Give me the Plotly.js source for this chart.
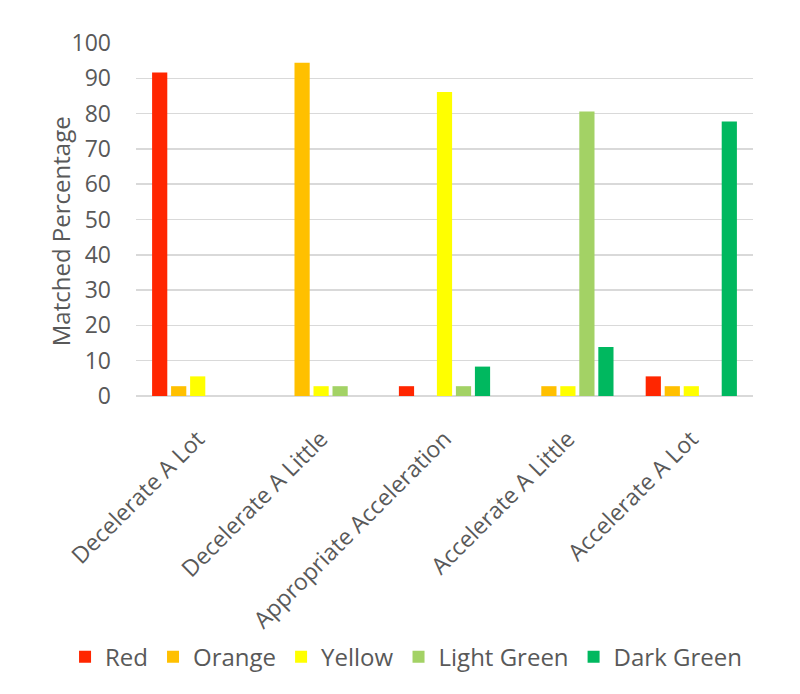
<!DOCTYPE html>
<html>
<head>
<meta charset="utf-8">
<script src="https://cdn.plot.ly/plotly-3.0.1.min.js"></script>
<style>
  html, body { margin: 0; padding: 0; background: #fff; }
  #chart { width: 800px; height: 694px; }
</style>
</head>
<body>
<div id="chart"></div>
<script>
var categories = [
  "Decelerate A Lot",
  "Decelerate A Little",
  "Appropriate Acceleration",
  "Accelerate A Little",
  "Accelerate A Lot"
];
var seriesNames = ["Red", "Orange", "Yellow", "Light Green", "Dark Green"];
var seriesColors = ["#ff2600", "#ffc000", "#ffff00", "#a3d265", "#00b85f"];

var red = [91.67, 0, 2.78, 0, 5.56];
var orange = [2.78, 94.44, 0, 2.78, 2.78];
var yellow = [5.56, 2.78, 86.11, 2.78, 2.78];
var lightGreen = [0, 2.78, 2.78, 80.56, 0];
var darkGreen = [0, 0, 8.33, 13.89, 77.78];

var yTicks = [0, 10, 20, 30, 40, 50, 60, 70, 80, 90, 100];
var yTitle = "Matched Percentage";

var values = [red, orange, yellow, lightGreen, darkGreen];
var txt = "#595959";
var fontFam = "'Open Sans', 'Liberation Sans', sans-serif";

var traces = values.map(function (v, i) {
  return {
    type: "bar",
    name: seriesNames[i],
    x: categories,
    y: v,
    marker: { color: seriesColors[i], line: { width: 0 } },
    hoverinfo: "x+y+name"
  };
});

var layout = {
  width: 800,
  height: 694,
  paper_bgcolor: "#ffffff",
  plot_bgcolor: "#ffffff",
  margin: { l: 136, r: 47, t: 43, b: 298 },
  barmode: "group",
  bargap: 0.23,
  bargroupgap: 0.2,
  font: { family: fontFam, size: 23, color: txt },
  showlegend: true,
  legend: {
    orientation: "h",
    x: -0.115,
    xanchor: "left",
    y: -0.74,
    yanchor: "middle",
    font: { family: fontFam, size: 24, color: txt },
    itemwidth: 30,
    traceorder: "normal"
  },
  xaxis: {
    type: "category",
    automargin: false,
    tickangle: -45,
    tickfont: { family: fontFam, size: 23, color: txt },
    ticklabelstandoff: 24,
    showgrid: false,
    showline: false,
    ticks: "",
    zeroline: false
  },
  yaxis: {
    automargin: false,
    range: [0, 100],
    tickvals: yTicks,
    ticktext: yTicks.map(String),
    tickfont: { family: fontFam, size: 23, color: txt },
    ticklabelstandoff: 24,
    showgrid: true,
    gridcolor: "#d9d9d9",
    gridwidth: 1.5,
    zeroline: true,
    zerolinecolor: "#d9d9d9",
    zerolinewidth: 1.5,
    showline: false,
    ticks: ""
  },
  // y title placed as an annotation: the original sits a little below the axis middle
  annotations: [
    {
      text: yTitle,
      xref: "paper",
      yref: "paper",
      x: -0.123,
      y: 0.467,
      xanchor: "center",
      yanchor: "middle",
      textangle: -90,
      showarrow: false,
      font: { family: fontFam, size: 24, color: txt }
    }
  ]
};

Plotly.newPlot("chart", traces, layout, { displayModeBar: false, staticPlot: true });
</script>
</body>
</html>
